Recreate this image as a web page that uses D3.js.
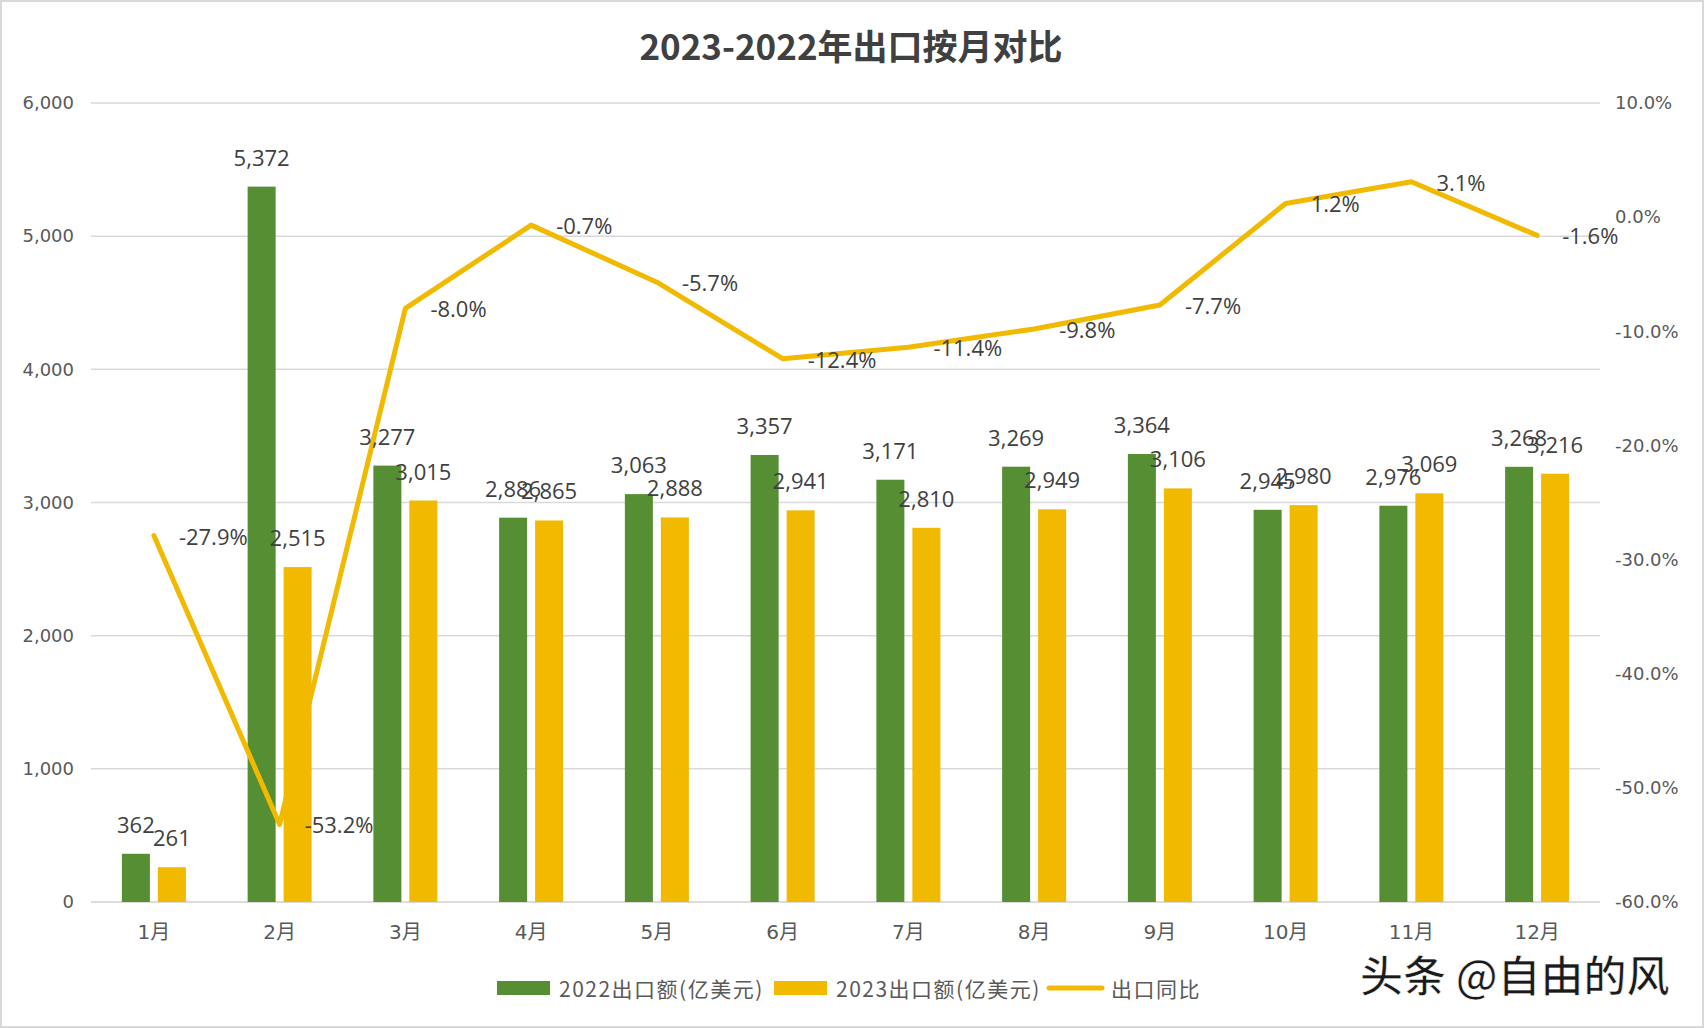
<!DOCTYPE html>
<html><head><meta charset="utf-8">
<script src="https://cdn.jsdelivr.net/npm/d3@7"></script>
<style>
html,body{margin:0;padding:0;background:#fff;}
svg{display:block;}
</style></head>
<body>
<script>
const months = ["1月","2月","3月","4月","5月","6月","7月","8月","9月","10月","11月","12月"];
const exports2022 = [362,5372,3277,2886,3063,3357,3171,3269,3364,2945,2976,3268];
const exports2023 = [261,2515,3015,2865,2888,2941,2810,2949,3106,2980,3069,3216];
const yoy = [-27.9,-53.2,-8.0,-0.7,-5.7,-12.4,-11.4,-9.8,-7.7,1.2,3.1,-1.6];
const seriesNames = ["2022出口额(亿美元)","2023出口额(亿美元)","出口同比"];
const leftTicks = [0,1000,2000,3000,4000,5000,6000];
const rightTicks = [-60,-50,-40,-30,-20,-10,0,10];
const title = "2023-2022年出口按月对比";
const watermark = "头条 @自由的风";

const W = 1704, H = 1028;
const plot = {left:91, right:1600, top:103, bottom:902};
const green = "#558E33", gold = "#F1B900";
const axisFont = "'DejaVu Sans','Noto Sans CJK SC',sans-serif";
const labelFont = "'Open Sans','Noto Sans CJK SC',sans-serif";
const cjkFont = "'Noto Sans CJK SC','Noto Sans',sans-serif";

const loc = d3.formatLocale({decimal:".", thousands:",", grouping:[3], currency:["",""], minus:"-"});
const fmtInt = loc.format(",");
const fmtPct = d => loc.format(".1f")(d) + "%";

const svg = d3.select("body").append("svg").attr("width",W).attr("height",H);
svg.append("rect").attr("x",1).attr("y",1).attr("width",W-2).attr("height",H-2)
  .attr("fill","#fff").attr("stroke","#d9d9d9").attr("stroke-width",2);

const x0 = d3.scaleBand().domain(months).range([plot.left,plot.right]).padding(0);
const x1 = d3.scaleBand().domain([0,1]).range([x0.bandwidth()/2-32, x0.bandwidth()/2+32]).paddingInner(0.222);
const yL = d3.scaleLinear().domain([0,6000]).range([plot.bottom,plot.top]);
const yR = d3.scaleLinear().domain([-60,10]).range([plot.bottom,plot.top]);

// gridlines
svg.append("g").selectAll("line").data(leftTicks.filter(d=>d>0)).join("line")
  .attr("x1",plot.left).attr("x2",plot.right)
  .attr("y1",d=>yL(d)).attr("y2",d=>yL(d))
  .attr("stroke","#d9d9d9").attr("stroke-width",1.5);

// title
svg.append("text").attr("x",851).attr("y",44).attr("text-anchor","middle")
  .attr("dominant-baseline","central")
  .attr("font-family",cjkFont).attr("font-size",35).attr("font-weight","bold")
  .attr("fill","#404040").text(title);

// axes
const gL = svg.append("g").attr("transform",`translate(${plot.left},0)`)
  .call(d3.axisLeft(yL).tickValues(leftTicks).tickFormat(fmtInt).tickSize(0).tickPadding(17));
const gR = svg.append("g").attr("transform",`translate(${plot.right},0)`)
  .call(d3.axisRight(yR).tickValues(rightTicks).tickFormat(fmtPct).tickSize(0).tickPadding(15));
const gB = svg.append("g").attr("transform",`translate(0,${plot.bottom})`)
  .call(d3.axisBottom(x0).tickSize(0).tickPadding(30));
[gL,gR,gB].forEach(g=>{
  g.select(".domain").remove();
  g.selectAll("text").attr("font-family",axisFont).attr("font-size",18).attr("fill","#595959");
});
gB.selectAll("text").attr("dy","0.35em").attr("font-size",20);

// baseline
svg.append("line").attr("x1",plot.left).attr("x2",plot.right)
  .attr("y1",yL(0)).attr("y2",yL(0)).attr("stroke","#d0d0d0").attr("stroke-width",1.5);

// bars
const series = [exports2022, exports2023];
const colors = [green, gold];
series.forEach((vals,si)=>{
  const g = svg.append("g");
  g.selectAll("rect").data(vals).join("rect")
    .attr("x",(d,i)=>x0(months[i])+x1(si))
    .attr("y",d=>yL(d))
    .attr("width",x1.bandwidth())
    .attr("height",d=>yL(0)-yL(d))
    .attr("fill",colors[si]);
});

// line
const cx = i => x0(months[i]) + x0.bandwidth()/2;
const line = d3.line().x((d,i)=>cx(i)).y(d=>yR(d));
svg.append("path").datum(yoy).attr("d",line)
  .attr("fill","none").attr("stroke",gold).attr("stroke-width",5)
  .attr("stroke-linejoin","round").attr("stroke-linecap","round");

// bar labels
series.forEach((vals,si)=>{
  svg.append("g").selectAll("text").data(vals).join("text")
    .attr("x",(d,i)=>x0(months[i])+x1(si)+x1.bandwidth()/2)
    .attr("y",d=>yL(d)-21)
    .attr("text-anchor","middle")
    .attr("font-family",labelFont).attr("font-size",22).attr("fill","#404040")
    .text(d=>fmtInt(d));
});

// line labels
svg.append("g").selectAll("text").data(yoy).join("text")
  .attr("x",(d,i)=>cx(i)+25)
  .attr("y",d=>yR(d))
  .attr("dominant-baseline","central")
  .attr("font-family",labelFont).attr("font-size",22).attr("fill","#404040")
  .text(d=>fmtPct(d));

// legend
const lg = svg.append("g");
const legendX = [497, 774, 1049];
seriesNames.forEach((name,i)=>{
  if(i<2){
    lg.append("rect").attr("x",legendX[i]).attr("y",981).attr("width",53).attr("height",14).attr("fill",colors[i]);
  } else {
    lg.append("line").attr("x1",legendX[i]).attr("x2",legendX[i]+53).attr("y1",988).attr("y2",988)
      .attr("stroke",gold).attr("stroke-width",5).attr("stroke-linecap","round");
  }
  lg.append("text").attr("x",legendX[i]+62).attr("y",988).attr("dominant-baseline","central")
    .attr("font-family",cjkFont).attr("font-size",21).attr("letter-spacing","1.5px")
    .attr("fill","#595959").text(name);
});

// watermark
svg.append("text").attr("x",1360).attr("y",973).attr("dominant-baseline","central")
  .attr("font-family",cjkFont).attr("font-size",43).attr("font-weight",500)
  .attr("fill","#1a1a1a").attr("stroke","#ffffff").attr("stroke-width",0.6)
  .text(watermark);
</script>
</body></html>
